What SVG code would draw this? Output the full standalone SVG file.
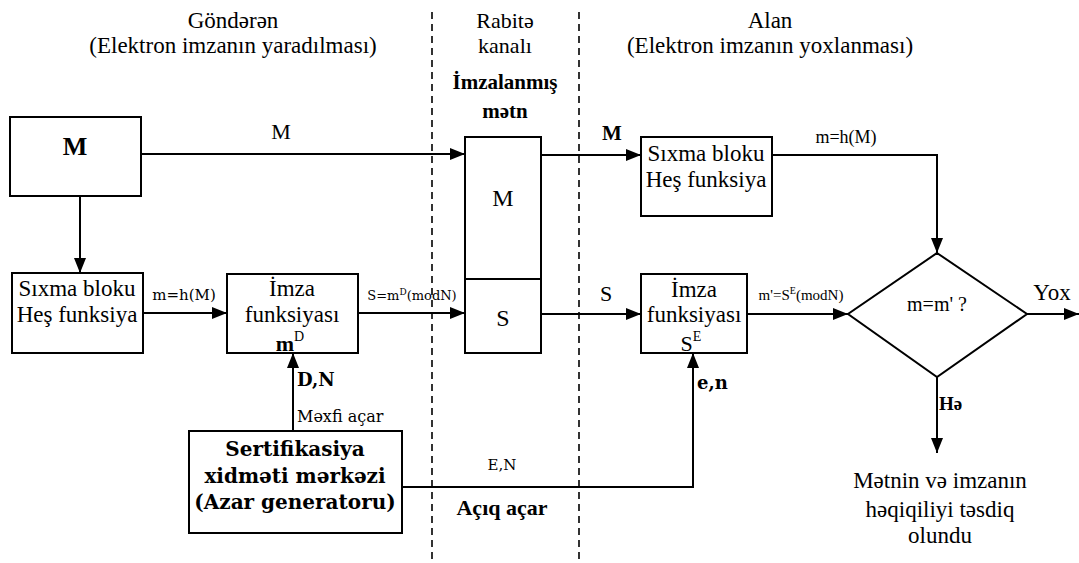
<svg xmlns="http://www.w3.org/2000/svg" width="1079" height="563" viewBox="0 0 1079 563">
<style>
  .box{fill:#fff;stroke:#000;stroke-width:2}
  .ln{fill:none;stroke:#000;stroke-width:2}
  .dash{fill:none;stroke:#000;stroke-width:1.6;stroke-dasharray:7,5}
  text{font-family:'Liberation Serif','DejaVu Serif','Noto Serif',Tinos,'Times New Roman',Times,serif;fill:#000}
  .t{text-anchor:middle}
  .c{font-family:'DejaVu Serif','Liberation Serif','Noto Serif',serif;text-anchor:middle}
  .s{text-anchor:start}
  .b{font-weight:bold}
</style>
<defs>
  <marker id="ah" markerUnits="userSpaceOnUse" markerWidth="15" markerHeight="12" refX="15" refY="6" orient="auto">
    <path d="M0,0 L15,6 L0,12 z" fill="#000"/>
  </marker>
</defs>
<rect width="1079" height="563" fill="#fff"/>

<g id="dividers">
  <line class="dash" x1="432" y1="12" x2="432" y2="563"/>
  <line class="dash" x1="579" y1="12" x2="579" y2="563"/>
</g>

<g id="headers">
  <text class="t" x="233" y="28" font-size="23">Göndərən</text>
  <text class="t" x="233" y="53" font-size="23">(Elektron imzanın yaradılması)</text>
  <text class="t" x="505" y="28" font-size="22">Rabitə</text>
  <text class="t" x="505" y="53" font-size="22">kanalı</text>
  <text class="t b" x="505" y="89" font-size="21">İmzalanmış</text>
  <text class="t b" x="505" y="118" font-size="21">mətn</text>
  <text class="t" x="770" y="28" font-size="23">Alan</text>
  <text class="t" x="770" y="53" font-size="23">(Elektron imzanın yoxlanması)</text>
</g>

<g id="connectors">
  <path class="ln" d="M141,154 H465" marker-end="url(#ah)"/>
  <path class="ln" d="M80,196 V273" marker-end="url(#ah)"/>
  <path class="ln" d="M143,313 H227" marker-end="url(#ah)"/>
  <path class="ln" d="M358,313 H465" marker-end="url(#ah)"/>
  <path class="ln" d="M293,431 V353" marker-end="url(#ah)"/>
  <path class="ln" d="M541,155 H641" marker-end="url(#ah)"/>
  <path class="ln" d="M541,314 H641" marker-end="url(#ah)"/>
  <path class="ln" d="M402,487 H693 V353" marker-end="url(#ah)"/>
  <path class="ln" d="M772,155 H937 V253" marker-end="url(#ah)"/>
  <path class="ln" d="M747,314 H848" marker-end="url(#ah)"/>
  <path class="ln" d="M1027,314 H1079" marker-end="url(#ah)"/>
  <path class="ln" d="M937,377 V453" marker-end="url(#ah)"/>
</g>

<g id="labels">
  <text class="t" x="281" y="139" font-size="22">M</text>
  <text class="c" x="184" y="300" font-size="15">m=h(M)</text>
  <text class="c" x="412" y="300" font-size="13">S=m<tspan dy="-5" font-size="9">D</tspan><tspan dy="5">(modN)</tspan></text>
  <text class="c b s" x="297" y="386" font-size="18">D,N</text>
  <text class="c s" x="297" y="422" font-size="16">Məxfi açar</text>
  <text class="c" x="502" y="470" font-size="15">E,N</text>
  <text class="t b" x="502" y="515" font-size="22">Açıq açar</text>
  <text class="t b" x="612" y="140" font-size="21">M</text>
  <text class="t" x="846" y="143" font-size="18">m=h(M)</text>
  <text class="t" x="606" y="301" font-size="22">S</text>
  <text class="t" x="801" y="300" font-size="15">m'=S<tspan dy="-6" font-size="10">E</tspan><tspan dy="6">(modN)</tspan></text>
  <text class="c b s" x="697" y="389" font-size="18">e,n</text>
  <text class="t" x="1052" y="300" font-size="23">Yox</text>
  <text class="t b s" x="939" y="410" font-size="19">Hə</text>
</g>

<g id="node-M">
  <rect class="box" x="10" y="117" width="131" height="79"/>
  <text class="t b" x="75" y="155" font-size="26">M</text>
</g>

<g id="node-sixma-left">
  <rect class="box" x="12" y="273" width="131" height="80"/>
  <text class="t" x="77" y="296" font-size="23">Sıxma bloku</text>
  <text class="t" x="77" y="322" font-size="23">Heş funksiya</text>
</g>

<g id="node-imza-left">
  <rect class="box" x="227" y="274" width="131" height="79"/>
  <text class="t" x="292" y="296" font-size="23">İmza</text>
  <text class="t" x="292" y="322" font-size="23">funksiyası</text>
  <text class="t b" x="290" y="351" font-size="22">m<tspan dy="-10" font-size="14" font-weight="normal">D</tspan></text>
</g>

<g id="node-channel">
  <rect class="box" x="465" y="137" width="76" height="216"/>
  <line class="ln" x1="465" y1="279" x2="541" y2="279"/>
  <text class="t" x="503" y="206" font-size="24">M</text>
  <text class="t" x="503" y="326" font-size="24">S</text>
</g>

<g id="node-sert">
  <rect class="box" x="189" y="431" width="213" height="102"/>
  <text class="c b" x="295" y="456" font-size="20">Sertifikasiya</text>
  <text class="c b" x="295" y="483" font-size="20">xidməti mərkəzi</text>
  <text class="c b" x="295" y="509" font-size="20">(Azar generatoru)</text>
</g>

<g id="node-sixma-right">
  <rect class="box" x="641" y="137" width="131" height="79"/>
  <text class="t" x="706" y="161" font-size="23">Sıxma bloku</text>
  <text class="t" x="706" y="187" font-size="23">Heş funksiya</text>
</g>

<g id="node-imza-right">
  <rect class="box" x="641" y="274" width="106" height="79"/>
  <text class="t" x="694" y="297" font-size="23">İmza</text>
  <text class="t" x="694" y="322" font-size="23">funksiyası</text>
  <text class="t" x="691" y="351" font-size="22">S<tspan dy="-10" font-size="14">E</tspan></text>
</g>

<g id="node-decision">
  <polygon class="box" points="937,253 1027,314 937,377 848,314"/>
  <text class="t" x="937" y="311" font-size="20">m=m' ?</text>
</g>

<g id="node-result">
  <text class="t" x="940" y="488" font-size="23">Mətnin və imzanın</text>
  <text class="t" x="940" y="517" font-size="23">həqiqiliyi təsdiq</text>
  <text class="t" x="940" y="543" font-size="23">olundu</text>
</g>
</svg>
